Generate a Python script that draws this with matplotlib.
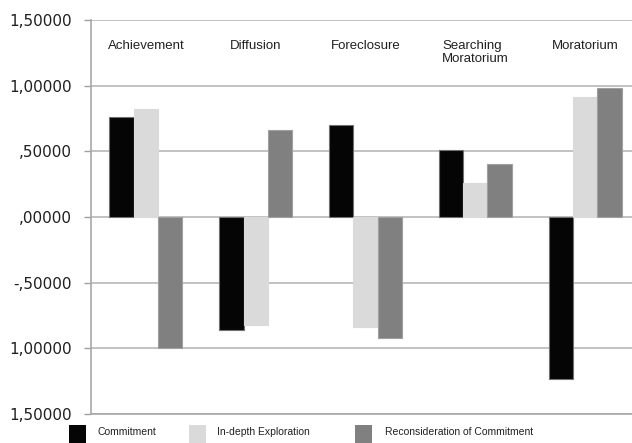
import matplotlib
matplotlib.use("Agg")
import matplotlib.pyplot as plt
from matplotlib.patches import Rectangle
import numpy as np

# data
categories = ["Achievement", "Diffusion", "Foreclosure", "Searching\nMoratorium", "Moratorium"]
series_names = ["Commitment", "In-depth Exploration", "Reconsideration of Commitment"]
commitment = [0.76, -0.86, 0.70, 0.51, -1.23]
exploration = [0.82, -0.82, -0.84, 0.26, 0.91]
reconsideration = [-1.00, 0.66, -0.92, 0.40, 0.98]
ytick_vals = [1.5, 1.0, 0.5, 0.0, -0.5, -1.0, -1.5]
ytick_labels = ["1,50000", "1,00000", ",50000", ",00000", "-,50000", "1,00000", "1,50000"]

colors = ["#050505", "#dadada", "#808080"]
edges = ["#707070", "#dadada", "#a0a0a0"]

W, H = 632, 443
fig = plt.figure(figsize=(W / 100, H / 100), dpi=100)
# axis runs past the right edge of the picture, as in the reference
ax = fig.add_axes([91 / W, 29 / H, 549 / W, 394 / H])

x = np.arange(len(categories))
bw = 0.222
for i, vals in enumerate([commitment, exploration, reconsideration]):
    ax.bar(x + (i - 1) * bw, vals, bw, color=colors[i], edgecolor=edges[i],
           linewidth=0.8, zorder=3)

ax.set_xlim(-0.5, len(categories) - 0.5)
ax.set_ylim(-1.5, 1.5)
ax.set_yticks(ytick_vals)
ax.set_yticklabels(ytick_labels, fontsize=11, family="DejaVu Sans", color="#202020")
ax.tick_params(axis="y", length=5, pad=9, color="#a0a0a0", width=1)
ax.set_xticks([])
ax.grid(axis="y", color="#b8b8b8", linewidth=1.2, zorder=0)
for s in ["top", "right"]:
    ax.spines[s].set_visible(False)
ax.spines["left"].set_color("#a8a8a8")
ax.spines["bottom"].set_color("#a8a8a8")
ax.spines["left"].set_linewidth(1.2)
ax.spines["bottom"].set_linewidth(1.2)

for xi, name in zip(x, categories):
    ax.text(xi - 0.0, 1.345, name, ha="center", va="top", fontsize=9.5,
            family="Liberation Sans", color="#202020", linespacing=1.1,
            multialignment="left")

# legend along the bottom edge
leg_x = [69, 189, 355]
txt_x = [97, 217, 385]
for i, name in enumerate(series_names):
    fig.patches.append(Rectangle((leg_x[i] / W, 0), 17 / W, 18 / H,
                                 transform=fig.transFigure, facecolor=colors[i],
                                 edgecolor="none"))
    fig.text(txt_x[i] / W, 1 - 432 / H, name, fontsize=7.5, family="Liberation Sans",
             va="center", ha="left", color="#202020")

fig.savefig("out.png", dpi=100)
